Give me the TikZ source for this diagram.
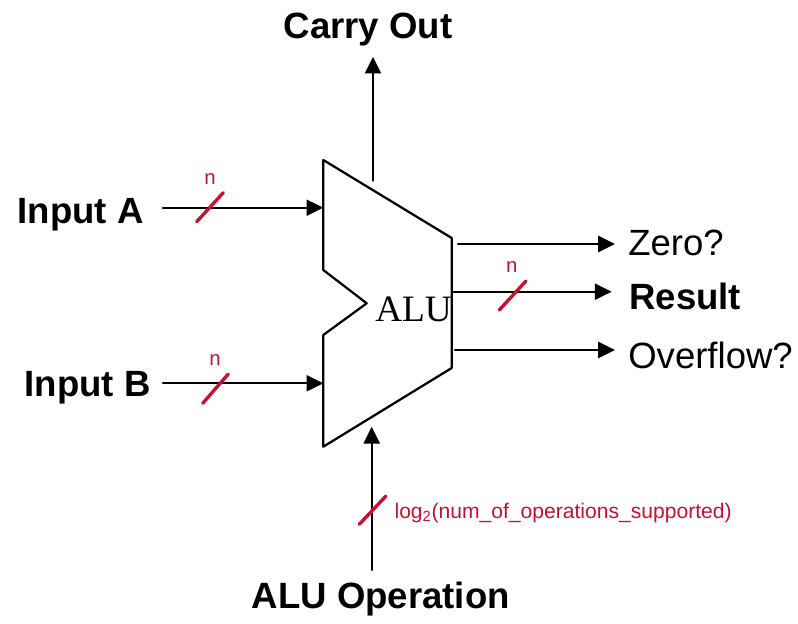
\documentclass[tikz,border=0pt]{standalone}
\usepackage{fontspec}
\setmainfont{Liberation Sans}
\newfontfamily\aluserif{Liberation Serif}
\usepackage{tkz-euclide}
\usetikzlibrary{arrows.meta,calc}
\definecolor{WidthClr}{RGB}{196,18,48}
\tikzset{
  wire/.style={line width=1.6pt,-{Triangle[length=4.2mm,width=4mm]}},
  buswidth/.style={line width=2.4pt,color=WidthClr},
  sig/.style={inner sep=0pt,font=\fontsize{26}{31}\selectfont},
  widthlbl/.style={inner sep=0pt,color=WidthClr,font=\fontsize{14.5}{17}\selectfont}
}

\begin{document}
\begin{tikzpicture}[scale=.25]
\tkzSetUpLine[line width=1.6pt,color=black]
\useasboundingbox (0,0) rectangle (79.8,62.3);

% ALU body
\tkzDefPoints{32.33/46.3/TL,45.17/38.5/TR,45.17/25.5/BR,32.33/17.63/BL,
  32.33/35.3/NA,36.67/31.97/NT,32.33/28.8/NB}
\tkzDrawPolygon[line width=1.6pt,color=black](TL,TR,BR,BL,NB,NT,NA)

% wire ends
\tkzDefPoints{16.3/41.53/A0,32.33/41.53/A1,16.3/23.97/B0,32.33/23.97/B1,
  37.3/44.23/C0,37.3/56.63/C1,37.17/5.3/S0,37.17/19.63/S1}
\tkzDefPoints{45.8/37.9/Z0,61.5/37.9/Z1,45.3/33.13/R0,61.17/33.13/R1,
  45.5/27.3/V0,61.5/27.3/V1}

\tkzDrawSegments[wire](A0,A1 B0,B1 C0,C1 S0,S1 Z0,Z1 R0,R1 V0,V1)

% bus width marks
\tkzDefPoints{19.67/40.13/WA0,22.33/43.03/WA1,20.27/21.97/WB0,22.83/24.9/WB1,
  49.93/31.3/WR0,52.6/34.2/WR1,35.93/9.87/WS0,38.6/12.7/WS1}
\tkzDrawSegments[buswidth](WA0,WA1 WB0,WB1 WR0,WR1 WS0,WS1)

\node[sig,anchor=base] (inA) at (8.05,39.97) {\bfseries Input A};
\node[sig,anchor=base] (inB) at (8.75,22.63) {\bfseries Input B};
\node[sig,anchor=base] (cout) at (36.8,58.47) {\bfseries Carry Out};
\node[sig,anchor=base] (aluop) at (38.08,1.5) {\bfseries ALU Operation};
\node[sig,anchor=base west] (zero) at (62.8,36.8) {Zero?};
\node[sig,anchor=base west] (res) at (62.9,31.37) {\bfseries Result};
\node[sig,anchor=base west] (ovf) at (62.8,25.47) {Overflow?};
\node[inner sep=0pt,anchor=base west,font=\aluserif\fontsize{26.5}{30}\selectfont] (alu) at (37.5,30.13) {ALU};

\node[widthlbl,anchor=base] (nA) at (21.0,43.87) {n};
\node[widthlbl,anchor=base] (nB) at (21.5,25.8) {n};
\node[widthlbl,anchor=base] (nR) at (51.17,35.03) {n};
\node[inner sep=0pt,color=WidthClr,font=\fontsize{15}{18}\selectfont,anchor=base west] (nS) at (39.43,10.47) {log\textsubscript{2}(num\_of\_operations\_supported)};

\end{tikzpicture}
\end{document}
